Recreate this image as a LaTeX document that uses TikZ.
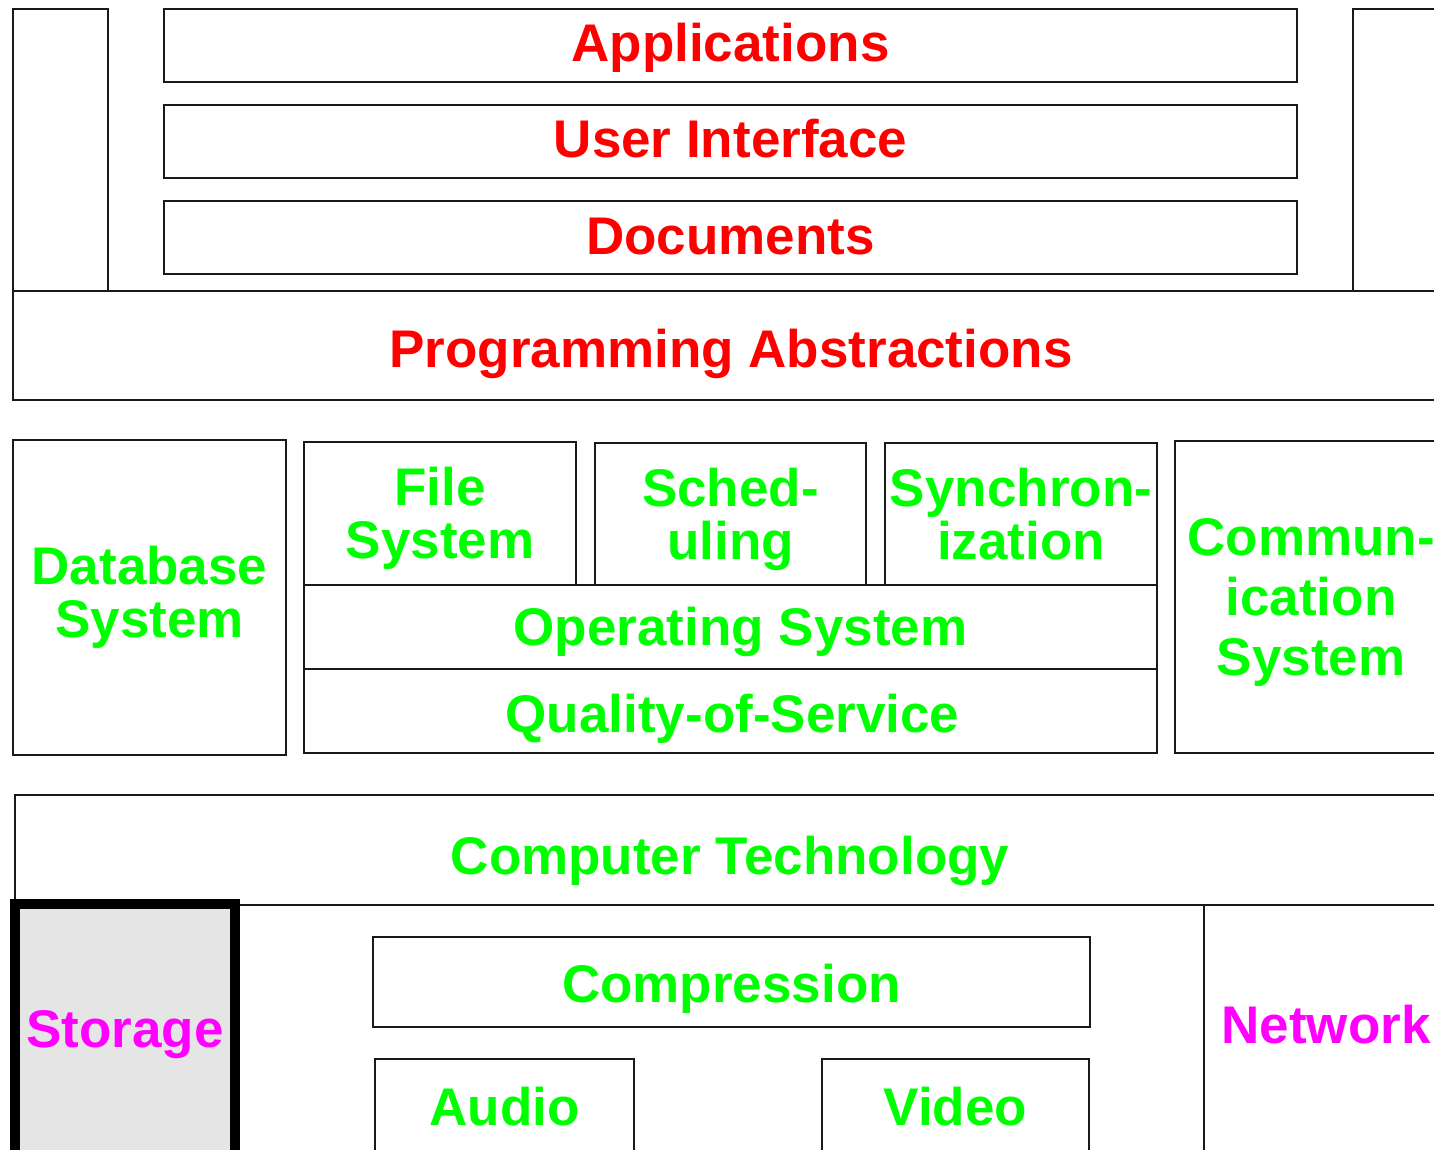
\documentclass[tikz,border=0pt]{standalone}
\usepackage{fontspec}
\setmainfont{Liberation Sans}
\definecolor{hired}{RGB}{255,0,0}
\definecolor{higreen}{RGB}{0,255,0}
\definecolor{himag}{RGB}{255,0,255}
\begin{document}
\begin{tikzpicture}[x=1pt,y=-1pt,
  box/.style={draw=black!90, line width=1.4pt, inner sep=0pt},
  lbl/.style={inner sep=0pt, align=center,
    font=\fontsize{53}{53}\selectfont\bfseries},
  redtxt/.style={lbl, text=hired},
  greentxt/.style={lbl, text=higreen},
  magtxt/.style={lbl, text=himag}]
\useasboundingbox (0,0) rectangle (1434,1149);
\clip (0,0) rectangle (1434,1149);
\fill[white] (0,0) rectangle (1434,1149);

% application side columns and layers
\node[box, minimum width=95, minimum height=282] (leftcol) at (60.5,150) {};
\node[box, minimum width=94, minimum height=282] (rightcol) at (1400,150) {};
\node[box, minimum width=1133, minimum height=73] (apps) at (730.5,45.5) {};
\node[box, minimum width=1133, minimum height=73] (ui) at (730.5,141.5) {};
\node[box, minimum width=1133, minimum height=73] (docs) at (730.5,237.5) {};
\node[box, minimum width=1436, minimum height=109] (prog) at (731,345.5) {};
\node[redtxt] (appsT) at ([yshift=-2pt]apps.center) {Applications};
\node[redtxt] (uiT) at ([yshift=3pt]ui.center) {User Interface};
\node[redtxt] (docsT) at ([yshift=1pt]docs.center) {Documents};
\node[redtxt] (progT) at ([yshift=-8pt]prog.center) {Programming Abstractions};

% system services
\node[box, minimum width=273, minimum height=315] (db) at (149.5,597.5) {};
\node[box, minimum width=272, minimum height=143] (fs) at (440,513.5) {};
\node[box, minimum width=271, minimum height=142] (sched) at (730.5,514) {};
\node[box, minimum width=272, minimum height=142] (sync) at (1021,514) {};
\node[box, minimum width=853, minimum height=84] (os) at (730.5,627) {};
\node[box, minimum width=853, minimum height=84] (qos) at (730.5,711) {};
\node[box, minimum width=272, minimum height=312] (comm) at (1311,597) {};
\node[greentxt] (dbT) at (db.center) {Database\\System};
\node[greentxt] (fsT) at ([yshift=-5pt]fs.center) {File\\System};
\node[greentxt] (schedT) at ([yshift=-5pt]sched.center) {Sched-\\uling};
\node[greentxt] (syncT) at (sync.center) {Synchron-\\ization};
\node[greentxt] (osT) at ([xshift=10pt,yshift=-5pt]os.center) {Operating System};
\node[greentxt] (qosT) at ([xshift=2pt,yshift=-8pt]qos.center) {Quality-of-Service};
\node[greentxt, font=\fontsize{53}{60}\selectfont\bfseries] (commT)
  at ([yshift=-5pt]comm.center) {Commun-\\ication\\System};

% technology base
\node[box, minimum width=1430, minimum height=110] (ct) at (730,850) {};
\node[box, minimum width=244, minimum height=250] (net) at (1326,1030) {};
\node[box, minimum width=717, minimum height=90] (comp) at (731.5,982) {};
\node[box, minimum width=259, minimum height=96] (audio) at (504.5,1107) {};
\node[box, minimum width=267, minimum height=96] (video) at (955.5,1107) {};
\node[box, line width=10pt, draw=black, fill=black!10,
  minimum width=220, minimum height=252] (storage) at (125,1030) {};
\node[greentxt] (ctT) at ([yshift=-11pt]ct.center) {Computer Technology};
\node[magtxt] (netT) at ([yshift=5pt]net.center) {Network};
\node[greentxt] (compT) at ([yshift=-7pt]comp.center) {Compression};
\node[greentxt] (audioT) at (audio.center) {Audio};
\node[greentxt] (videoT) at (video.center) {Video};
\node[magtxt] (storageT) at ([yshift=-5pt]storage.center) {Storage};
\end{tikzpicture}
\end{document}
